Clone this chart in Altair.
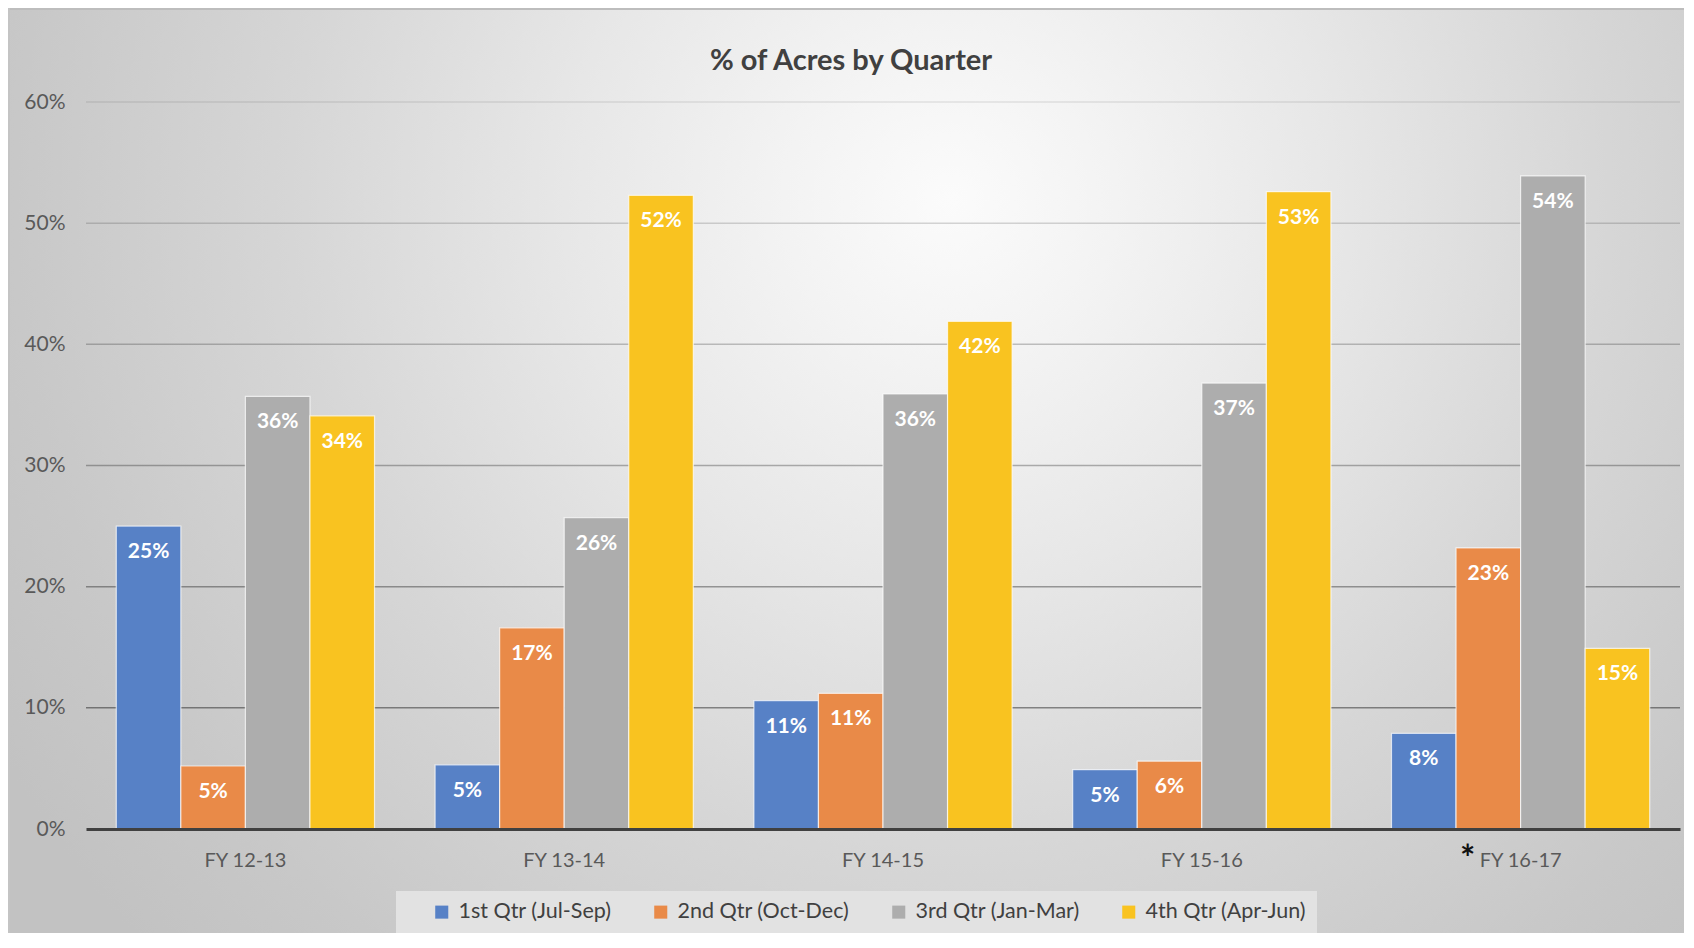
import altair as alt
import pandas as pd

title_text = ["% of Acres by Quarter"]
categories = ["FY 12-13", "FY 13-14", "FY 14-15", "FY 15-16", "FY 16-17"]
quarters = ["1st Qtr (Jul-Sep)", "2nd Qtr (Oct-Dec)", "3rd Qtr (Jan-Mar)", "4th Qtr (Apr-Jun)"]
q1 = [0.250, 0.053, 0.106, 0.049, 0.079]
q2 = [0.052, 0.166, 0.112, 0.056, 0.232]
q3 = [0.357, 0.257, 0.359, 0.368, 0.539]
q4 = [0.341, 0.523, 0.419, 0.526, 0.149]
colors = ["#5781c6", "#e98a48", "#adadad", "#f9c320"]
y_ticks = [0.0, 0.1, 0.2, 0.3, 0.4, 0.5, 0.6]
grid_ticks = [0.1, 0.2, 0.3, 0.4, 0.5, 0.6]
note_category = ["FY 16-17"]

rows = []
for qi, series in enumerate([q1, q2, q3, q4]):
    for ci, v in enumerate(series):
        rows.append({"fy": categories[ci], "q": quarters[qi], "v": v})
df = pd.DataFrame(rows)
grid_df = pd.DataFrame({"g": grid_ticks})
note_df = pd.DataFrame({"fy": note_category, "t": ["*"]})
title_df = pd.DataFrame({"t": title_text})
one = pd.DataFrame({"a": [0]})

W, H = 1594, 727
FONT = "Lato"

x_enc = alt.X(
    "fy:N", sort=categories,
    scale=alt.Scale(paddingInner=0.19, paddingOuter=0.095),
    axis=alt.Axis(title=None, labelAngle=0, ticks=False, domain=True,
                  domainColor="#404040", domainWidth=3, labelPadding=21,
                  labelFontSize=20, labelColor="#595959", labelFont=FONT, grid=False,
                  zindex=2),
)
y_scale = alt.Scale(domain=[0, 0.6], nice=False)
y_axis = alt.Axis(title=None, values=y_ticks, format=".0%", grid=False, domain=False,
                  ticks=False, labelPadding=21, labelFontSize=21, labelColor="#595959",
                  labelFont=FONT, zindex=2)
xoff = alt.XOffset("q:N", sort=quarters, scale=alt.Scale(paddingInner=0, paddingOuter=0))

bg = alt.Chart(one).mark_rect(
    fill=alt.RadialGradient(
        gradient="radial", x1=0.5, y1=0.5, r1=0, x2=0.5, y2=0.5, r2=0.5,
        stops=[
            alt.GradientStop(offset=0, color="#fbfbfb"),
            alt.GradientStop(offset=0.15, color="#f3f3f3"),
            alt.GradientStop(offset=0.35, color="#e7e7e7"),
            alt.GradientStop(offset=0.6, color="#d6d6d6"),
            alt.GradientStop(offset=0.85, color="#c8c8c8"),
            alt.GradientStop(offset=1, color="#c2c2c2"),
        ],
    )
).encode(x=alt.value(-236), x2=alt.value(1964), y=alt.value(-1002), y2=alt.value(1198))

frame_top = alt.Chart(one).mark_rule(color="#bdbdbd", strokeWidth=2).encode(
    x=alt.value(-78), x2=alt.value(W + 4), y=alt.value(-93))
frame_left = alt.Chart(one).mark_rule(color="#c4c4c4", strokeWidth=2).encode(
    x=alt.value(-77), y=alt.value(-94), y2=alt.value(H + 104))

title = alt.Chart(title_df).mark_text(
    fontSize=29, font=FONT, fontWeight="bold", color="#404040",
    align="center", baseline="alphabetic"
).encode(x=alt.value(W / 2 - 32), y=alt.value(-32), text="t:N")

grid = alt.Chart(grid_df).mark_rule(color="#000000", strokeWidth=1.5).encode(
    y=alt.Y("g:Q", scale=y_scale, axis=y_axis),
    opacity=alt.Opacity("g:Q", scale=alt.Scale(domain=[0.1, 0.6], range=[0.42, 0.09]), legend=None),
)

bars = alt.Chart(df).mark_bar(stroke="white", strokeWidth=1.2, strokeOpacity=0.7).encode(
    x=x_enc,
    xOffset=xoff,
    y=alt.Y("v:Q", scale=y_scale, axis=y_axis),
    color=alt.Color(
        "q:N", sort=quarters, scale=alt.Scale(domain=quarters, range=colors),
        legend=alt.Legend(
            title=None, orient="none", legendX=310, legendY=789, direction="horizontal",
            symbolType="square", symbolSize=170, symbolStrokeWidth=0,
            labelFontSize=21.5, labelFont=FONT, labelColor="#404040", labelLimit=400,
            fillColor="#e2e2e2", padding=10, columnPadding=13, symbolOffset=25,
            labelOffset=6, zindex=2,
        ),
    ),
)

labels = alt.Chart(df).mark_text(
    baseline="middle", dy=26, color="white", fontWeight="bold", fontSize=21, font=FONT
).encode(
    x=x_enc, xOffset=xoff,
    y=alt.Y("v:Q", scale=y_scale, axis=y_axis),
    text=alt.Text("v:Q", format=".0%"),
)

note = alt.Chart(note_df).mark_text(
    fontSize=36, fontWeight="bold", color="#111111", dx=-53, baseline="middle", font=FONT
).encode(x=x_enc, y=alt.value(H + 31), text="t:N")

chart = alt.layer(bg, frame_top, frame_left, title, grid, bars, labels, note).properties(
    width=W, height=H,
    autosize=alt.AutoSizeParams(type="none"),
    padding={"left": 78, "top": 94, "right": 4, "bottom": 104},
).configure_view(strokeWidth=0)

chart.save("out.html", embed_options={"renderer": "svg", "actions": False})
